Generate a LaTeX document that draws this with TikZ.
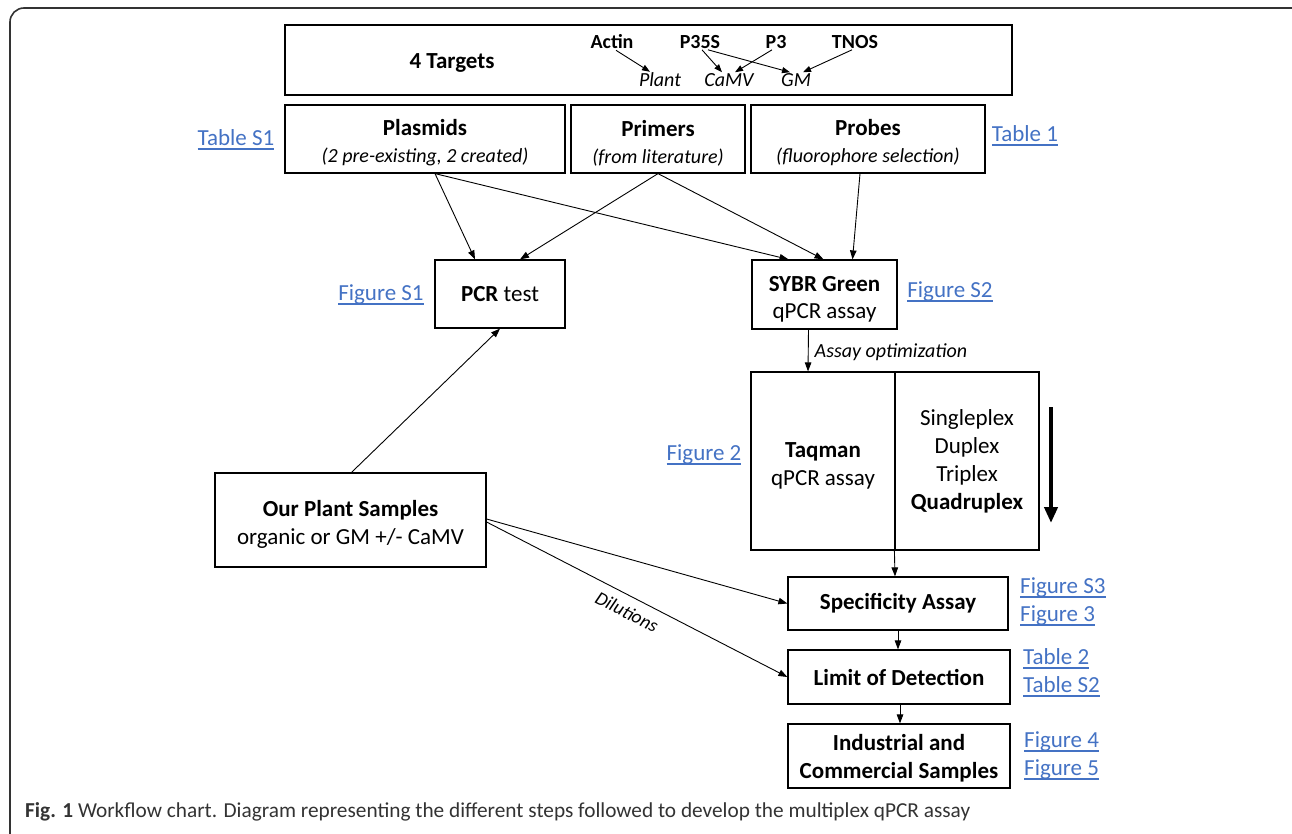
\documentclass[tikz,border=0pt]{standalone}
\usepackage{fontspec}
\setmainfont{Carlito}
\usetikzlibrary{arrows.meta}
\definecolor{linkblue}{HTML}{4472C4}
\definecolor{capgray}{HTML}{333333}
\newcommand\lnk[1]{\textcolor{linkblue}{\setbox0\hbox{#1}\rlap{\rule[-4pt]{\wd0}{1.5pt}}\box0}}
\newcommand\fsz[1]{\fontsize{#1}{#1}\selectfont}
\newcommand\upstrut{\rule{0pt}{24pt}}
\tikzset{
  box/.style={draw, line width=1.2pt, inner sep=0pt, align=center, font=\fsz{23}},
  link/.style={inner sep=0pt, font=\fsz{23}},
  tgt/.style={inner sep=1pt, font=\fsz{20}\bfseries},
  tgtl/.style={inner sep=1pt, font=\fsz{20}\itshape},
  arr/.style={line width=0.9pt, -{Triangle[length=9pt,width=6.5pt]}},
  sarr/.style={line width=0.9pt, -{Triangle[length=8pt,width=6pt]}},
}
\begin{document}
\begin{tikzpicture}[x=1pt,y=-1pt]
\useasboundingbox (0,0) rectangle (1292,833);
\clip (0,0) rectangle (1292,833);
\draw[line width=1.6pt, color=black!80, rounded corners=14pt] (10,8) rectangle (1310,850);

% top targets box
\node[box, minimum width=727pt, minimum height=70pt] (targets) at (648.5,60) {};
\node[font=\fsz{23}\bfseries, inner sep=0pt] (tlabel) at (452,63) {4 Targets};
\node[tgt] (actin) at (612,42) {Actin};
\node[tgt] (p35s) at (700,42) {P35S};
\node[tgt] (p3) at (776,42) {P3};
\node[tgt] (tnos) at (855,42) {TNOS};
\node[tgtl] (plant) at (660,80) {Plant};
\node[tgtl] (camv) at (729,80) {CaMV};
\node[tgtl] (gm) at (796,80) {GM};
\draw[sarr] ([xshift=4pt]actin.south) -- ([xshift=-10pt]plant.north);
\draw[sarr] ([xshift=2pt]p35s.south) -- ([xshift=-7pt]camv.north);
\draw[sarr] ([xshift=8pt]p35s.south) -- ([xshift=-6pt]gm.north);
\draw[sarr] ([xshift=-4pt]p3.south) -- ([xshift=6pt]camv.north);
\draw[sarr] ([xshift=-3pt]tnos.south) -- ([xshift=7pt]gm.north);

% second row
\node[box, minimum width=280pt, minimum height=68pt] (plasmids) at (425,139)
  {\upstrut\textbf{Plasmids}\\[4pt]{\fsz{20}\itshape (2 pre-existing, 2 created)}};
\node[box, minimum width=174pt, minimum height=68pt] (primers) at (658,139)
  {\upstrut\textbf{Primers}\\[4pt]{\fsz{20}\itshape (from literature)}};
\node[box, minimum width=234pt, minimum height=68pt] (probes) at (868,139)
  {\upstrut\textbf{Probes}\\[4pt]{\fsz{20}\itshape (fluorophore selection)}};
\node[link] (ts1) at (236,140) {\lnk{Table S1}};
\node[link] (t1) at (1025,136) {\lnk{Table 1}};

% third row
\node[box, minimum width=130pt, minimum height=68pt] (pcr) at (500,294)
  {\textbf{PCR} test};
\node[box, minimum width=145pt, minimum height=69pt] (sybr) at (824.5,294.5)
  {\upstrut\textbf{SYBR Green}\\[4pt]qPCR assay};
\node[link] (fs1) at (381,295) {\lnk{Figure S1}};
\node[link] (fs2) at (950,292) {\lnk{Figure S2}};

\draw[arr] ([xshift=10pt]plasmids.south) -- ([xshift=-25pt]pcr.north);
\draw[arr] ([xshift=10pt]plasmids.south) -- ([xshift=-36pt]sybr.north);
\draw[arr] (primers.south) -- ([xshift=20pt]pcr.north);
\draw[arr] (primers.south) -- ([xshift=-1pt]sybr.north);
\draw[arr] ([xshift=-8pt]probes.south) -- ([xshift=28pt]sybr.north);

% Taqman
\node[box, minimum width=144pt, minimum height=178pt] (taqman) at (823,461)
  {\upstrut\textbf{Taqman}\\[5pt]qPCR assay};
\node[box, minimum width=144pt, minimum height=178pt] (plex) at (967,461)
  {Singleplex\\[5pt]Duplex\\[5pt]Triplex\\[5pt]\textbf{Quadruplex}};
\node[link] (f2) at (704,455) {\lnk{Figure 2}};
\draw[arr] ([xshift=-16pt]sybr.south) -- node[right, pos=0.55, inner sep=6pt, font=\fsz{20}\itshape] (opt) {Assay optimization} ([xshift=-15pt]taqman.north);
\coordinate (thtop) at (1051,407);
\coordinate (thbot) at (1051,523);
\draw[line width=4pt, -{Triangle[length=16pt,width=13pt]}] (thtop) -- (thbot);

% plant samples
\node[box, minimum width=271pt, minimum height=94pt] (samples) at (350.5,520)
  {\upstrut\textbf{Our Plant Samples}\\[5pt]organic or GM +/- CaMV};
\draw[arr] ([xshift=1pt]samples.north) -- (pcr.south);

% bottom chain
\node[box, minimum width=220pt, minimum height=53pt, font=\fsz{23}\bfseries] (spec) at (898,603.5) {Specificity Assay};
\node[box, minimum width=222pt, minimum height=54pt, font=\fsz{23}\bfseries] (lod) at (899,677) {Limit of Detection};
\node[box, minimum width=222pt, minimum height=64pt, font=\fsz{23}\bfseries] (ind) at (899,756) {\rule{0pt}{20pt}Industrial and\\[5pt]Commercial Samples};
\draw[arr] (plex.south west) -- ([xshift=-3pt]spec.north);
\draw[arr] (spec.south) -- ([xshift=-1pt]lod.north);
\draw[arr] ([xshift=1pt]lod.south) -- ([xshift=1pt]ind.north);
\node[link, anchor=west] (fs3) at (1020,588) {\lnk{Figure S3}};
\node[link, anchor=west] (f3) at (1020,616) {\lnk{Figure 3}};
\node[link, anchor=west] (t2) at (1023,659) {\lnk{Table 2}};
\node[link, anchor=west] (ts2) at (1023,687) {\lnk{Table S2}};
\node[link, anchor=west] (f4) at (1024,742) {\lnk{Figure 4}};
\node[link, anchor=west] (f5) at (1024,770) {\lnk{Figure 5}};

\draw[arr] ([yshift=1pt]samples.east) -- (spec.west);
\draw[arr] ([yshift=-2pt]samples.east) -- (lod.west);
\node[font=\fsz{19}\itshape, inner sep=0pt, rotate=-27] (dil) at (627,612) {Dilutions};

% caption
\node[anchor=west, inner sep=0pt, font=\fsz{21.3}, text=capgray] (cap) at (25,812)
  {\textbf{Fig. 1} Workflow chart. Diagram representing the different steps followed to develop the multiplex qPCR assay};
\end{tikzpicture}
\end{document}
